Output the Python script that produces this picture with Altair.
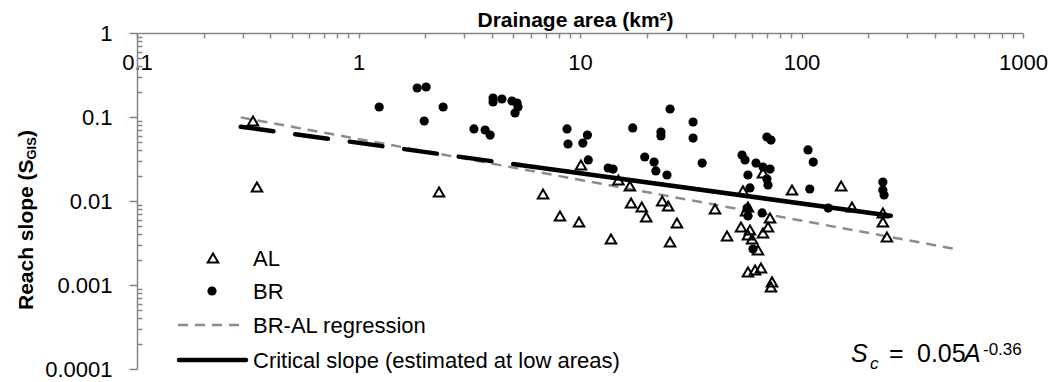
import altair as alt
import pandas as pd

# ---------------- data ----------------
al_area = [0.334, 0.348, 2.31, 6.81, 8.12, 9.9, 10.1, 14.9, 16.8, 17.0, 19.0, 19.9, 13.8,
           23.5, 25.0, 27.4, 25.5, 40.7, 46.1, 53.3, 67.0, 90.6, 54.4, 57.3, 56.2, 58.5,
           57.3, 59.8, 63.6, 72.1, 70.6, 67.0, 57.3, 61.7, 65.6, 73.6, 72.8, 151, 169,
           233, 233, 243]
al_slope = [0.0896, 0.0147, 0.0128, 0.0121, 0.00663, 0.00562, 0.0268, 0.0178, 0.0151,
            0.00947, 0.00849, 0.00645, 0.00353, 0.0100, 0.00871, 0.00547, 0.00325, 0.00803,
            0.00383, 0.00490, 0.0215, 0.0135, 0.0132, 0.00849, 0.00760, 0.00452, 0.00394,
            0.00353, 0.00261, 0.00628, 0.00490, 0.00416, 0.00143, 0.00151, 0.00159,
            0.00109, 0.000946, 0.0151, 0.00849, 0.00720, 0.00562, 0.00373]

br_area = [1.24, 1.84, 2.02, 2.41, 1.98, 3.32, 3.73, 3.93, 4.05, 4.05, 4.44, 4.93, 5.20,
           5.25, 5.09, 8.74, 10.8, 8.83, 10.3, 10.9, 13.4, 14.1, 17.3, 19.6, 21.6, 22.0,
           24.7, 23.2, 23.2, 25.5, 32.4, 32.4, 35.6, 53.9, 55.6, 62.3, 67.0, 72.1, 57.3,
           69.8, 70.6, 58.5, 69.8, 72.8, 107, 113, 109, 132, 233, 233, 236, 57.3, 66.4,
           60.4, 56.8]
br_slope = [0.1315, 0.2215, 0.2276, 0.1315, 0.0896, 0.0720, 0.0700, 0.0610, 0.1684,
            0.1509, 0.1638, 0.155, 0.1468, 0.1315, 0.1116, 0.0720, 0.0610, 0.0477, 0.0490,
            0.0308, 0.0247, 0.0240, 0.0740, 0.0334, 0.0291, 0.0228, 0.0204, 0.0663, 0.0594,
            0.1245, 0.0872, 0.0562, 0.0283, 0.0353, 0.0308, 0.0283, 0.0254, 0.0240, 0.0204,
            0.0183, 0.0155, 0.0143, 0.0578, 0.0532, 0.0405, 0.0291, 0.0139, 0.00825,
            0.0168, 0.0135, 0.0118, 0.00663, 0.00720, 0.00268, 0.00825]

reg_area = [0.294, 505]
reg_slope = [0.099, 0.00266]
crit_low_area = [0.294, 5.36]
crit_low_slope = [0.0767, 0.0268]
crit_area = [5.36, 253]
crit_slope = [0.0268, 0.00668]

x_ticks = [0.1, 1, 10, 100, 1000]
y_ticks = [0.0001, 0.001, 0.01, 0.1, 1]
x_minor = [m * 10.0 ** k for k in range(-1, 3) for m in range(2, 10)]
y_minor = [m * 10.0 ** k for k in range(-4, 0) for m in range(2, 10)]

# ---------------- styling ----------------
W, H = 886, 336
FONT = "Liberation Sans"
AX = "#868686"

al_df = pd.DataFrame({"area": al_area, "slope": al_slope})
br_df = pd.DataFrame({"area": br_area, "slope": br_slope})
reg_df = pd.DataFrame({"area": reg_area, "slope": reg_slope})
critl_df = pd.DataFrame({"area": crit_low_area, "slope": crit_low_slope})
crit_df = pd.DataFrame({"area": crit_area, "slope": crit_slope})
one = pd.DataFrame({"k": [0]})

xs = alt.Scale(type="log", domain=[0.1, 1000], nice=False)
ys = alt.Scale(type="log", domain=[0.0001, 1], nice=False)

x_major_axis = alt.Axis(orient="bottom", offset=-H, values=x_ticks, format="~g",
                        labelFlush=False, labelOverlap=False, labelFont=FONT,
                        labelFontSize=22, labelColor="black", labelPadding=14,
                        tickSize=5, tickColor=AX, tickWidth=1.5, domainColor=AX,
                        domainWidth=1.5, grid=False, title="Drainage area (km²)",
                        titleFont=FONT, titleFontSize=21, titleFontWeight="bold",
                        titleColor="black", titleX=438, titleY=-6.5,
                        titleBaseline="alphabetic")
y_major_axis = alt.Axis(orient="left", values=y_ticks, format="~g", labelFlush=False,
                        labelOverlap=False, labelFont=FONT, labelFontSize=22,
                        labelColor="black", labelPadding=17, tickSize=8, tickColor=AX,
                        tickWidth=1.5, domainColor=AX, domainWidth=1.5, grid=False,
                        title=None)
x_minor_axis = alt.Axis(orient="bottom", offset=-H, values=x_minor, labels=False,
                        domain=False, tickSize=5, tickColor=AX, tickWidth=1.5,
                        grid=False, title=None)
y_minor_axis = alt.Axis(orient="right", offset=-W, values=y_minor, labels=False,
                        domain=False, tickSize=5, tickColor=AX, tickWidth=1.5,
                        grid=False, title=None)

def xenc(axis=None):
    return alt.X("area:Q", scale=xs, axis=axis)

def yenc(axis=None):
    return alt.Y("slope:Q", scale=ys, axis=axis)

reg_line = alt.Chart(reg_df).mark_line(color="#8c8c8c", strokeWidth=2.5,
                                       strokeDash=[10, 7]).encode(x=xenc(), y=yenc())
crit_dash = alt.Chart(critl_df).mark_line(color="black", strokeWidth=4.5,
                                          strokeDash=[33, 22], strokeCap="round").encode(
    x=xenc(), y=yenc())
crit_line = alt.Chart(crit_df).mark_line(color="black", strokeWidth=4.5,
                                         strokeCap="round").encode(x=xenc(), y=yenc())

br_pts = alt.Chart(br_df).mark_circle(size=85, color="black", opacity=1).encode(
    x=xenc(x_minor_axis), y=yenc(y_minor_axis))
al_pts = alt.Chart(al_df).mark_point(shape="triangle-up", filled=False, size=110,
                                     color="black", strokeWidth=2, opacity=1).encode(
    x=xenc(x_major_axis), y=yenc(y_major_axis))

# ---------------- legend (inside plot, lower left) ----------------
def txt(s, x, y, size=22, style="normal", weight="normal", angle=0,
        baseline="alphabetic"):
    return alt.Chart(one).mark_text(text=s, align="left", baseline=baseline,
                                    font=FONT, fontSize=size, fontStyle=style,
                                    fontWeight=weight, angle=angle,
                                    color="black").encode(x=alt.value(x), y=alt.value(y))

leg_tri = alt.Chart(one).mark_point(shape="triangle-up", filled=False, size=110,
                                    color="black", strokeWidth=2, opacity=1).encode(
    x=alt.value(76), y=alt.value(225))
leg_circ = alt.Chart(one).mark_circle(size=85, color="black", opacity=1).encode(
    x=alt.value(75), y=alt.value(258))
leg_reg = alt.Chart(one).mark_rule(color="#8c8c8c", strokeWidth=2.5,
                                   strokeDash=[10, 7]).encode(
    x=alt.value(41), x2=alt.value(104), y=alt.value(292))
leg_crit = alt.Chart(one).mark_rule(color="black", strokeWidth=4.5,
                                    strokeCap="round").encode(
    x=alt.value(42), x2=alt.value(109), y=alt.value(327))

legend = [leg_tri, leg_circ, leg_reg, leg_crit,
          txt("AL", 116, 232.7), txt("BR", 116, 266),
          txt("BR-AL regression", 116, 300.3),
          txt("Critical slope (estimated at low areas)", 116, 335)]

# ---------------- equation ----------------
equation = [txt("S", 714, 329, size=25, style="italic"),
            txt("c", 733, 336, size=17, style="italic"),
            txt("=", 752, 329, size=25),
            txt("0.05", 780, 329, size=25),
            txt("A", 827, 329, size=25, style="italic"),
            txt("-0.36", 846, 322, size=17)]

# ---------------- y title with subscript ----------------
ytitle = [txt("Reach slope (S", -104, 277, size=21, weight="bold", angle=270),
          txt("GIS", -101, 126.5, size=13, weight="bold", angle=270),
          txt(")", -104, 104.1, size=21, weight="bold", angle=270)]

chart = alt.layer(reg_line, crit_dash, crit_line, br_pts, al_pts,
                  *legend, *equation, *ytitle).resolve_axis(
    x="independent", y="independent").properties(
    width=W, height=H,
    autosize=alt.AutoSizeParams(type="none"),
    padding={"left": 137, "top": 33, "right": 35, "bottom": 13},
    background="white",
).configure_view(stroke=None)

chart.save("out.html", embed_options={"renderer": "svg", "actions": False})
